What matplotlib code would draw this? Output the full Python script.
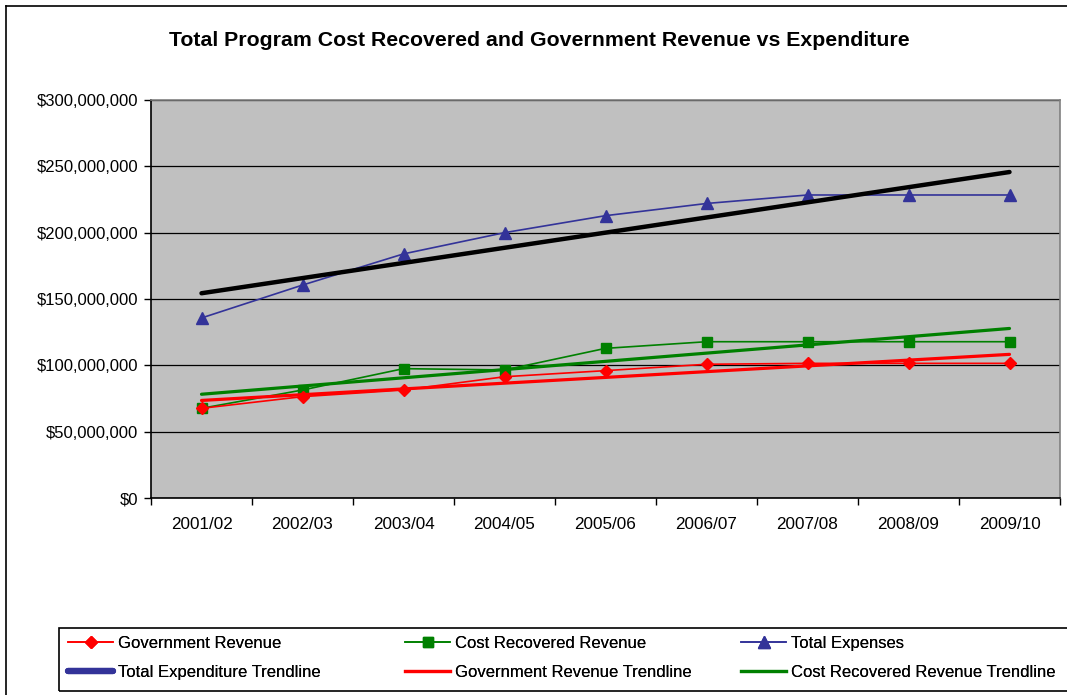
import numpy as np
import matplotlib
matplotlib.use('Agg')
import matplotlib.pyplot as plt
from matplotlib.lines import Line2D
from matplotlib.patches import Rectangle
from matplotlib.ticker import FuncFormatter, FixedLocator

plt.rcParams['font.family'] = ['Liberation Sans', 'DejaVu Sans']

years = ['2001/02', '2002/03', '2003/04', '2004/05', '2005/06',
         '2006/07', '2007/08', '2008/09', '2009/10']
gov_revenue = [67.6, 76.4, 81.4, 91.4, 96.0, 100.8, 101.5, 101.5, 101.5]
cost_recovered = [67.6, 81.4, 97.5, 96.5, 112.8, 117.8, 117.8, 117.8, 117.8]
total_expenses = [135.7, 160.5, 184.0, 200.0, 212.8, 222.0, 228.4, 228.4, 228.4]
# values above are in millions of dollars
scale = 1e6

W, H = 1067, 695
fig = plt.figure(figsize=(W / 100, H / 100), dpi=100)
fig.patch.set_facecolor('white')

# outer chart border (runs off the right and bottom)
fig.add_artist(Line2D([6 / W, 6 / W], [0, 1 - 6 / H], color='black', lw=1.2,
                      transform=fig.transFigure))
fig.add_artist(Line2D([6 / W, 1], [1 - 6 / H, 1 - 6 / H], color='black', lw=1.2,
                      transform=fig.transFigure))

ax = fig.add_axes([151 / W, 1 - 498 / H, (1060 - 151) / W, (498 - 100) / H])
ax.set_facecolor('#C0C0C0')

x = np.arange(len(years))
gov = np.array(gov_revenue) * scale
cost = np.array(cost_recovered) * scale
exp_ = np.array(total_expenses) * scale

navy = '#333399'
red = '#FF0000'
green = '#008000'

# linear trendlines (least squares)
t_exp = np.polyval(np.polyfit(x, exp_, 1), x)
t_gov = np.polyval(np.polyfit(x, gov, 1), x)
t_cost = np.polyval(np.polyfit(x, cost, 1), x)

ax.plot(x, exp_, color=navy, lw=1.2, marker='^', ms=8.5, mec=navy, mfc=navy, zorder=4)
ax.plot(x, cost, color=green, lw=1.2, marker='s', ms=7, mec=green, mfc=green, zorder=4)
ax.plot(x, gov, color=red, lw=1.2, marker='D', ms=6.5, mec=red, mfc=red, zorder=4)
ax.plot(x, t_exp, color='black', lw=3.2, solid_capstyle='round', zorder=5)
ax.plot(x, t_cost, color=green, lw=2.3, solid_capstyle='round', zorder=5)
ax.plot(x, t_gov, color=red, lw=2.3, solid_capstyle='round', zorder=5)

ax.set_xlim(-0.5, len(years) - 0.5)
ax.set_ylim(0, 300e6)
ax.set_yticks(np.arange(0, 300e6 + 1, 50e6))
ax.yaxis.set_major_formatter(FuncFormatter(lambda v, p: '${:,.0f}'.format(v)))
ax.grid(axis='y', color='black', lw=0.9)
ax.set_axisbelow(True)

# ticks between categories, labels centred on categories
ax.xaxis.set_major_locator(FixedLocator(np.arange(-0.5, len(years), 1.0)))
ax.xaxis.set_minor_locator(FixedLocator(x))
ax.set_xticklabels([''] * len(years + ['']))
ax.set_xticklabels(years, minor=True)
ax.tick_params(axis='x', which='major', length=5, width=1, color='black', direction='out')
ax.tick_params(axis='x', which='minor', length=0, pad=14, labelsize=12.3)
ax.tick_params(axis='y', length=5, width=1, color='black', direction='out',
               pad=4, labelsize=12)

for side in ['top', 'right']:
    ax.spines[side].set_color('#808080')
    ax.spines[side].set_linewidth(1.2)
for side in ['left', 'bottom']:
    ax.spines[side].set_color('black')
    ax.spines[side].set_linewidth(1.2)

fig.text(539 / W, 1 - 40 / H,
         'Total Program Cost Recovered and Government Revenue vs Expenditure',
         ha='center', va='center', fontsize=15.3, fontweight='bold')

# legend: frame plus three columns of two entries
fig.add_artist(Rectangle((59 / W, 1 - 691 / H), (1100 - 59) / W, (691 - 628) / H,
                         transform=fig.transFigure, fill=False, ec='black', lw=1.2))

h_gov = Line2D([], [], color=red, lw=1.2, marker='D', ms=6.5, mec=red, mfc=red)
h_cost = Line2D([], [], color=green, lw=1.2, marker='s', ms=7, mec=green, mfc=green)
h_exp = Line2D([], [], color=navy, lw=1.2, marker='^', ms=8.5, mec=navy, mfc=navy)
h_texp = Line2D([], [], color=navy, lw=4.5, solid_capstyle='round')
h_tgov = Line2D([], [], color=red, lw=2.3)
h_tcost = Line2D([], [], color=green, lw=2.3)

cols = [
    (68, [h_gov, h_texp], ['Government Revenue', 'Total Expenditure Trendline']),
    (405, [h_cost, h_tgov], ['Cost Recovered Revenue', 'Government Revenue Trendline']),
    (741, [h_exp, h_tcost], ['Total Expenses', 'Cost Recovered Revenue Trendline']),
]
for px, hs, labels in cols:
    leg = fig.legend(hs, labels, loc='center left',
                     bbox_to_anchor=(px / W, 1 - 658 / H),
                     frameon=False, fontsize=12, handlelength=2.7,
                     handletextpad=0.3, labelspacing=0.85, borderpad=0,
                     borderaxespad=0)
    fig.add_artist(leg)

fig.savefig('out.png', dpi=100)
